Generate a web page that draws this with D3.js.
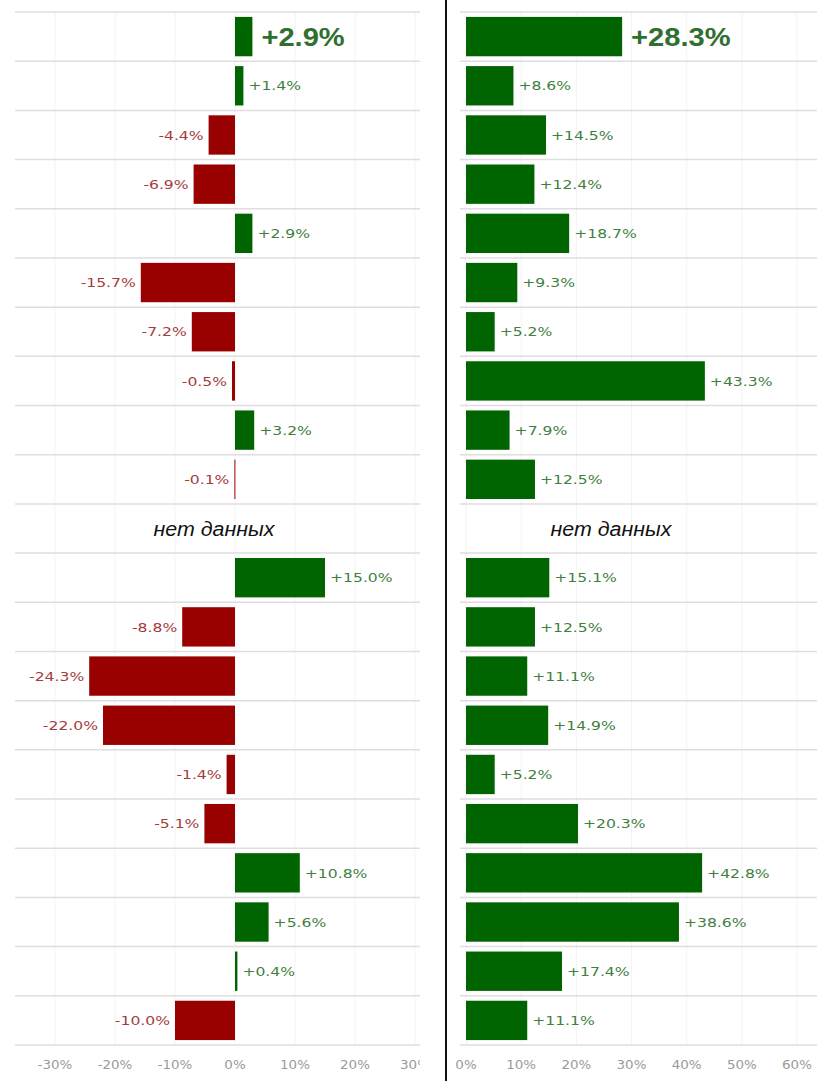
<!DOCTYPE html>
<html>
<head>
<meta charset="utf-8">
<script src="https://cdn.jsdelivr.net/npm/d3@7"></script>
<style>
  html, body { margin: 0; padding: 0; background: #fff; }
  svg { display: block; }
</style>
</head>
<body>
<svg id="chart" width="817" height="1081"></svg>
<script>
// ---- data ----
const topRows    = ["1","2","3","4","5","6","7","8","9","10"];
const bottomRows = ["11","12","13","14","15","16","17","18","19","20"];
const topLeft    = [2.9, 1.4, -4.4, -6.9, 2.9, -15.7, -7.2, -0.5, 3.2, -0.1];
const topRight   = [28.3, 8.6, 14.5, 12.4, 18.7, 9.3, 5.2, 43.3, 7.9, 12.5];
const bottomLeft = [15.0, -8.8, -24.3, -22.0, -1.4, -5.1, 10.8, 5.6, 0.4, -10.0];
const bottomRight= [15.1, 12.5, 11.1, 14.9, 5.2, 20.3, 42.8, 38.6, 17.4, 11.1];
const noDataText = "нет данных";
const leftTicks  = [-30, -20, -10, 0, 10, 20, 30];
const rightTicks = [0, 10, 20, 30, 40, 50, 60];

const rowIds = [...topRows, "gap", ...bottomRows];
const leftVals  = [...topLeft, null, ...bottomLeft];
const rightVals = [...topRight, null, ...bottomRight];

const svg = d3.select("#chart");
const GREEN = "#006400", RED = "#990000";
const GREEN_TXT = "#3f7f3f", RED_TXT = "#a43c3c";

const y = d3.scaleBand().domain(rowIds).range([12, 1045]).paddingInner(0.2).paddingOuter(0.1);
const step = y.step();
const xL = d3.scaleLinear().domain([-30, 30]).range([55, 415]);
const xR = d3.scaleLinear().domain([0, 60]).range([466, 797]);

function fmt(v) { return (v > 0 ? "+" : "") + v.toFixed(1) + "%"; }

function panel(x, vals, ticks, gx0, gx1, clipId, clipX0, clipX1, noDataX) {
  const defs = svg.append("defs");
  defs.append("clipPath").attr("id", clipId).append("rect")
    .attr("x", clipX0).attr("y", 0).attr("width", clipX1 - clipX0).attr("height", 1081);
  const g = svg.append("g").attr("clip-path", `url(#${clipId})`);

  // faint vertical gridlines
  g.append("g").selectAll("line").data(ticks).join("line")
    .attr("x1", d => x(d)).attr("x2", d => x(d))
    .attr("y1", y.range()[0]).attr("y2", y.range()[1])
    .attr("stroke", "#f3f3f3").attr("stroke-width", 1);

  // horizontal row boundaries
  const bounds = d3.range(rowIds.length + 1).map(i => y.range()[0] + i * step);
  g.append("g").selectAll("line").data(bounds).join("line")
    .attr("x1", gx0).attr("x2", gx1)
    .attr("y1", d => d).attr("y2", d => d)
    .attr("stroke", "#dedede").attr("stroke-width", 1.5);

  const data = rowIds.map((id, i) => ({ id, v: vals[i], i }));
  const withVal = data.filter(d => d.v !== null);

  g.append("g").selectAll("rect").data(withVal).join("rect")
    .attr("x", d => x(Math.min(0, d.v)))
    .attr("width", d => Math.max(1, Math.abs(x(d.v) - x(0))))
    .attr("y", d => y(d.id))
    .attr("height", y.bandwidth())
    .attr("fill", d => d.v >= 0 ? GREEN : RED);

  g.append("g").selectAll("text").data(withVal).join("text")
    .attr("transform", d => {
      const tx = d.v >= 0 ? x(d.v) + (d.i === 0 ? 9 : 5) : x(d.v) - 5;
      const ty = y(d.id) + y.bandwidth() / 2;
      return `translate(${tx},${ty}) scale(${d.i === 0 ? 1.12 : 1.2},1)`;
    })
    .attr("dy", "0.36em")
    .attr("text-anchor", d => d.v >= 0 ? "start" : "end")
    .attr("font-family", d => d.i === 0 ? "Liberation Sans, Arial, sans-serif" : "DejaVu Sans, Verdana, sans-serif")
    .attr("font-weight", d => d.i === 0 ? "bold" : "normal")
    .attr("font-size", d => d.i === 0 ? 26 : 13)
    .attr("fill", d => d.v >= 0 ? (d.i === 0 ? "#2f6f2f" : GREEN_TXT) : RED_TXT)
    .text(d => fmt(d.v));

  // "no data" row
  g.append("text")
    .attr("transform", `translate(${noDataX},${y("gap") + y.bandwidth() / 2}) scale(1.07,1)`)
    .attr("dy", "0.36em")
    .attr("text-anchor", "middle")
    .attr("font-family", "Liberation Sans, Arial, sans-serif")
    .attr("font-style", "italic")
    .attr("font-size", 20)
    .attr("fill", "#111")
    .text(noDataText);

  // tick labels
  g.append("g").selectAll("text").data(ticks).join("text")
    .attr("transform", d => `translate(${x(d)},1069) scale(1.12,1)`)
    .attr("text-anchor", "middle")
    .attr("font-family", "DejaVu Sans, Verdana, sans-serif")
    .attr("font-size", 12)
    .attr("fill", "#9a9a9a")
    .text(d => d + "%");
}

panel(xL, leftVals, leftTicks, 15, 420, "clipL", 0, 420, 214);
panel(xR, rightVals, rightTicks, 460, 817, "clipR", 448, 817, 611);

// separator line
svg.append("line").attr("x1", 446).attr("x2", 446).attr("y1", 0).attr("y2", 1081)
  .attr("stroke", "#111").attr("stroke-width", 2);
</script>
</body>
</html>
